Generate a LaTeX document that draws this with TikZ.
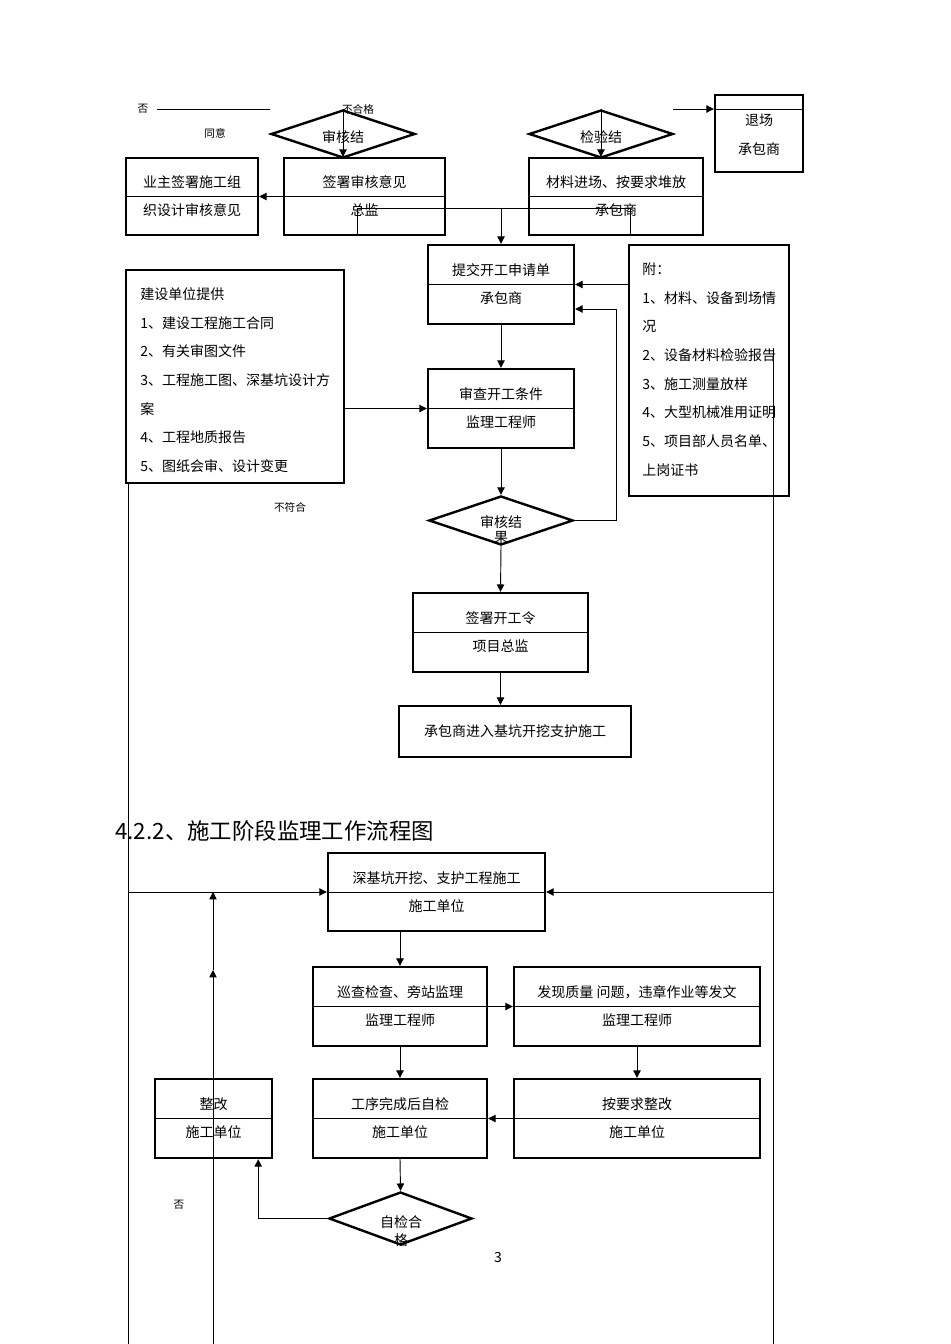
\documentclass[tikz,border=0pt]{standalone}
\usepackage{fontspec}
\setmainfont{Noto Sans CJK SC}
\usetikzlibrary{arrows.meta,calc,fit,shapes.geometric}

% two-line box: name, corner, corner, upper text, lower text
\newcommand{\flowbox}[5]{%
  \node[box, fit={#2 #3}] (#1) {};
  \draw[conn] (#1.west) -- (#1.east);
  \node[txt] (#1-a) at ($(#1.center)+(0,-14)$) {#4};
  \node[txt] (#1-b) at ($(#1.center)+(0,14)$) {#5};
}

\begin{document}
\begin{tikzpicture}[x=0.75pt,y=-0.75pt,
    >={Triangle[length=5.5pt,width=5.5pt]},
    box/.style={draw, line width=1.8pt, inner sep=0pt},
    dmd/.style={draw, diamond, line width=1.8pt, inner sep=0pt},
    conn/.style={line width=0.7pt},
    txt/.style={inner sep=0pt, font=\fontsize{10.5}{12}\selectfont},
    dtxt/.style={inner sep=0pt, align=center, font=\fontsize{10.5}{11.25}\selectfont},
    list/.style={inner sep=0pt, anchor=west, align=left, font=\fontsize{10.5}{21.5}\selectfont},
    small/.style={inner sep=0pt, font=\fontsize{8}{9}\selectfont}]
    \useasboundingbox (0,0) rectangle (950,1344);

    %Review of the organisation design
    \node[small] (no1) at (143,109) {否};
    \coordinate (no1end) at (270,109);
    \draw[conn] ([xshift=6pt]no1.east) -- (no1end);
    \node[small] (fail1) at (358,109) {不合格};
    \node[small] (agree) at (215,133) {同意};
    \node[dmd, minimum width=108pt, minimum height=36pt] (review) at (343,134) {};
    \node[txt] (review-t) at (343,137) {审核结};
    \flowbox{owner}{(126,158)}{(258,235)}{业主签署施工组}{织设计审核意见}
    \flowbox{chief}{(284,158)}{(445,235)}{签署审核意见}{总监}
    \draw[conn,->] (review.north) -- (review.north |- chief.north);
    \draw[conn,->] (chief.west) -- (owner.east);

    %Material inspection
    \node[dmd, minimum width=108pt, minimum height=36pt] (inspect) at (601,134) {};
    \node[txt] (inspect-t) at (601,137) {检验结};
    \flowbox{material}{(529,158)}{(703,235)}{材料进场、按要求堆放}{承包商}
    \draw[conn,->] (inspect.north) -- (inspect.north |- material.north);
    \node[box, fit={(715,95) (803,172)}] (exitbox) {};
    \coordinate (ex) at (673,109);
    \draw[conn] (exitbox.west |- ex) -- (exitbox.east |- ex);
    \draw[conn,->] (ex) -- (exitbox.west |- ex);
    \node[txt] (exitbox-a) at (759,120) {退场};
    \node[txt] (exitbox-b) at (759,149) {承包商};

    %Application
    \flowbox{apply}{(428,245)}{(574,324)}{提交开工申请单}{承包商}
    \coordinate (j1) at (357,208);
    \coordinate (j2) at (630,208);
    \draw[conn] (j1 |- chief.south) -- (j1) -- (j2) -- (j2 |- material.south);
    \draw[conn,->] (apply.north |- j1) -- (apply.north);

    %Attachments
    \node[box, fit={(629,245) (789,496)}] (attach) {};
    \node[list] (attach-t) at (642,369.5) {附：\\1、材料、设备到场情\\况\\2、设备材料检验报告\\3、施工测量放样\\4、大型机械准用证明\\5、项目部人员名单、\\上岗证书};
    \draw[conn,->] (attach.west |- apply.center) -- (apply.east);

    %Owner documents
    \node[box, fit={(126,270) (344,483)}] (provide) {};
    \node[list] (provide-t) at (140,380) {建设单位提供\\1、建设工程施工合同\\2、有关审图文件\\3、工程施工图、深基坑设计方\\案\\4、工程地质报告\\5、图纸会审、设计变更};

    %Start conditions
    \flowbox{check}{(428,369)}{(574,448)}{审查开工条件}{监理工程师}
    \draw[conn,->] (provide.east |- check.center) -- (check.west);
    \draw[conn,->] (apply.south) -- (check.north);
    \node[dmd, minimum width=108pt, minimum height=36.75pt] (result) at (501,520.5) {};
    \node[dtxt] (result-t) at (501,529.5) {审核结\\果};
    \draw[conn,->] (check.south) -- (result.north);
    \draw[conn,->] (result.east) -- ++(42,0) |- ($(apply.east)+(0,24.5)$);
    \node[small] (nomatch) at (290,507) {不符合};

    %Start order
    \flowbox{order}{(413,593)}{(588,672)}{签署开工令}{项目总监}
    \draw[conn,->] (result.south) -- (order.north);
    \node[box, fit={(399,706) (631,757)}] (start) {};
    \node[txt] (start-t) at (start.center) {承包商进入基坑开挖支护施工};
    \draw[conn,->] (order.south) -- (order.south |- start.north);

    %Construction stage
    \node[anchor=west, inner sep=0pt, font=\fontsize{16.8}{18}\selectfont] (title) at (115,831) {4.2.2、施工阶段监理工作流程图};
    \flowbox{dig}{(328,853)}{(545,931)}{深基坑开挖、支护工程施工}{施工单位}
    \coordinate (ltop) at (128,483);
    \coordinate (lbot) at (128,1344);
    \coordinate (rtop) at (773,348);
    \coordinate (rbot) at (773,1344);
    \draw[conn] (ltop) -- (lbot);
    \draw[conn] (rtop) -- (rbot);
    \draw[conn,->] (ltop |- dig.center) -- (dig.west);
    \draw[conn,->] (rtop |- dig.center) -- (dig.east);

    \flowbox{patrol}{(313,967)}{(487,1046)}{巡查检查、旁站监理}{监理工程师}
    \flowbox{issue}{(514,967)}{(760,1046)}{发现质量 问题，违章作业等发文}{监理工程师}
    \flowbox{fix}{(155,1079)}{(272,1158)}{整改}{施工单位}
    \flowbox{selfchk}{(313,1079)}{(487,1158)}{工序完成后自检}{施工单位}
    \flowbox{rectify}{(514,1079)}{(760,1158)}{按要求整改}{施工单位}
    \draw[conn,->] (patrol.north |- dig.south) -- (patrol.north);
    \draw[conn,->] (patrol.east) -- (issue.west);
    \draw[conn,->] (patrol.south) -- (selfchk.north);
    \draw[conn,->] (issue.south) -- (rectify.north);
    \draw[conn,->] (rectify.west) -- (selfchk.east);

    %Self check
    \node[dmd, minimum width=107.25pt, minimum height=39.75pt] (selfok) at (400.5,1218.5) {};
    \node[dtxt, font=\fontsize{10.5}{13.5}\selectfont] (selfok-t) at (401,1231) {自检合\\格};
    \draw[conn,->] (selfchk.south) -- (selfok.north);
    \draw[conn,->] (selfok.west) -| ($(fix.south east)+(-15,0)$);
    \node[small] (no2) at (179,1205) {否};
    \coordinate (up0) at (213,1344);
    \coordinate (up1) at (213,970);
    \draw[conn,->] (up0) -- (up1);
    \draw[conn,->] (up1) -- (up1 |- dig.center);

    \node[txt] (pageno) at (498,1257) {3};
\end{tikzpicture}
\end{document}
